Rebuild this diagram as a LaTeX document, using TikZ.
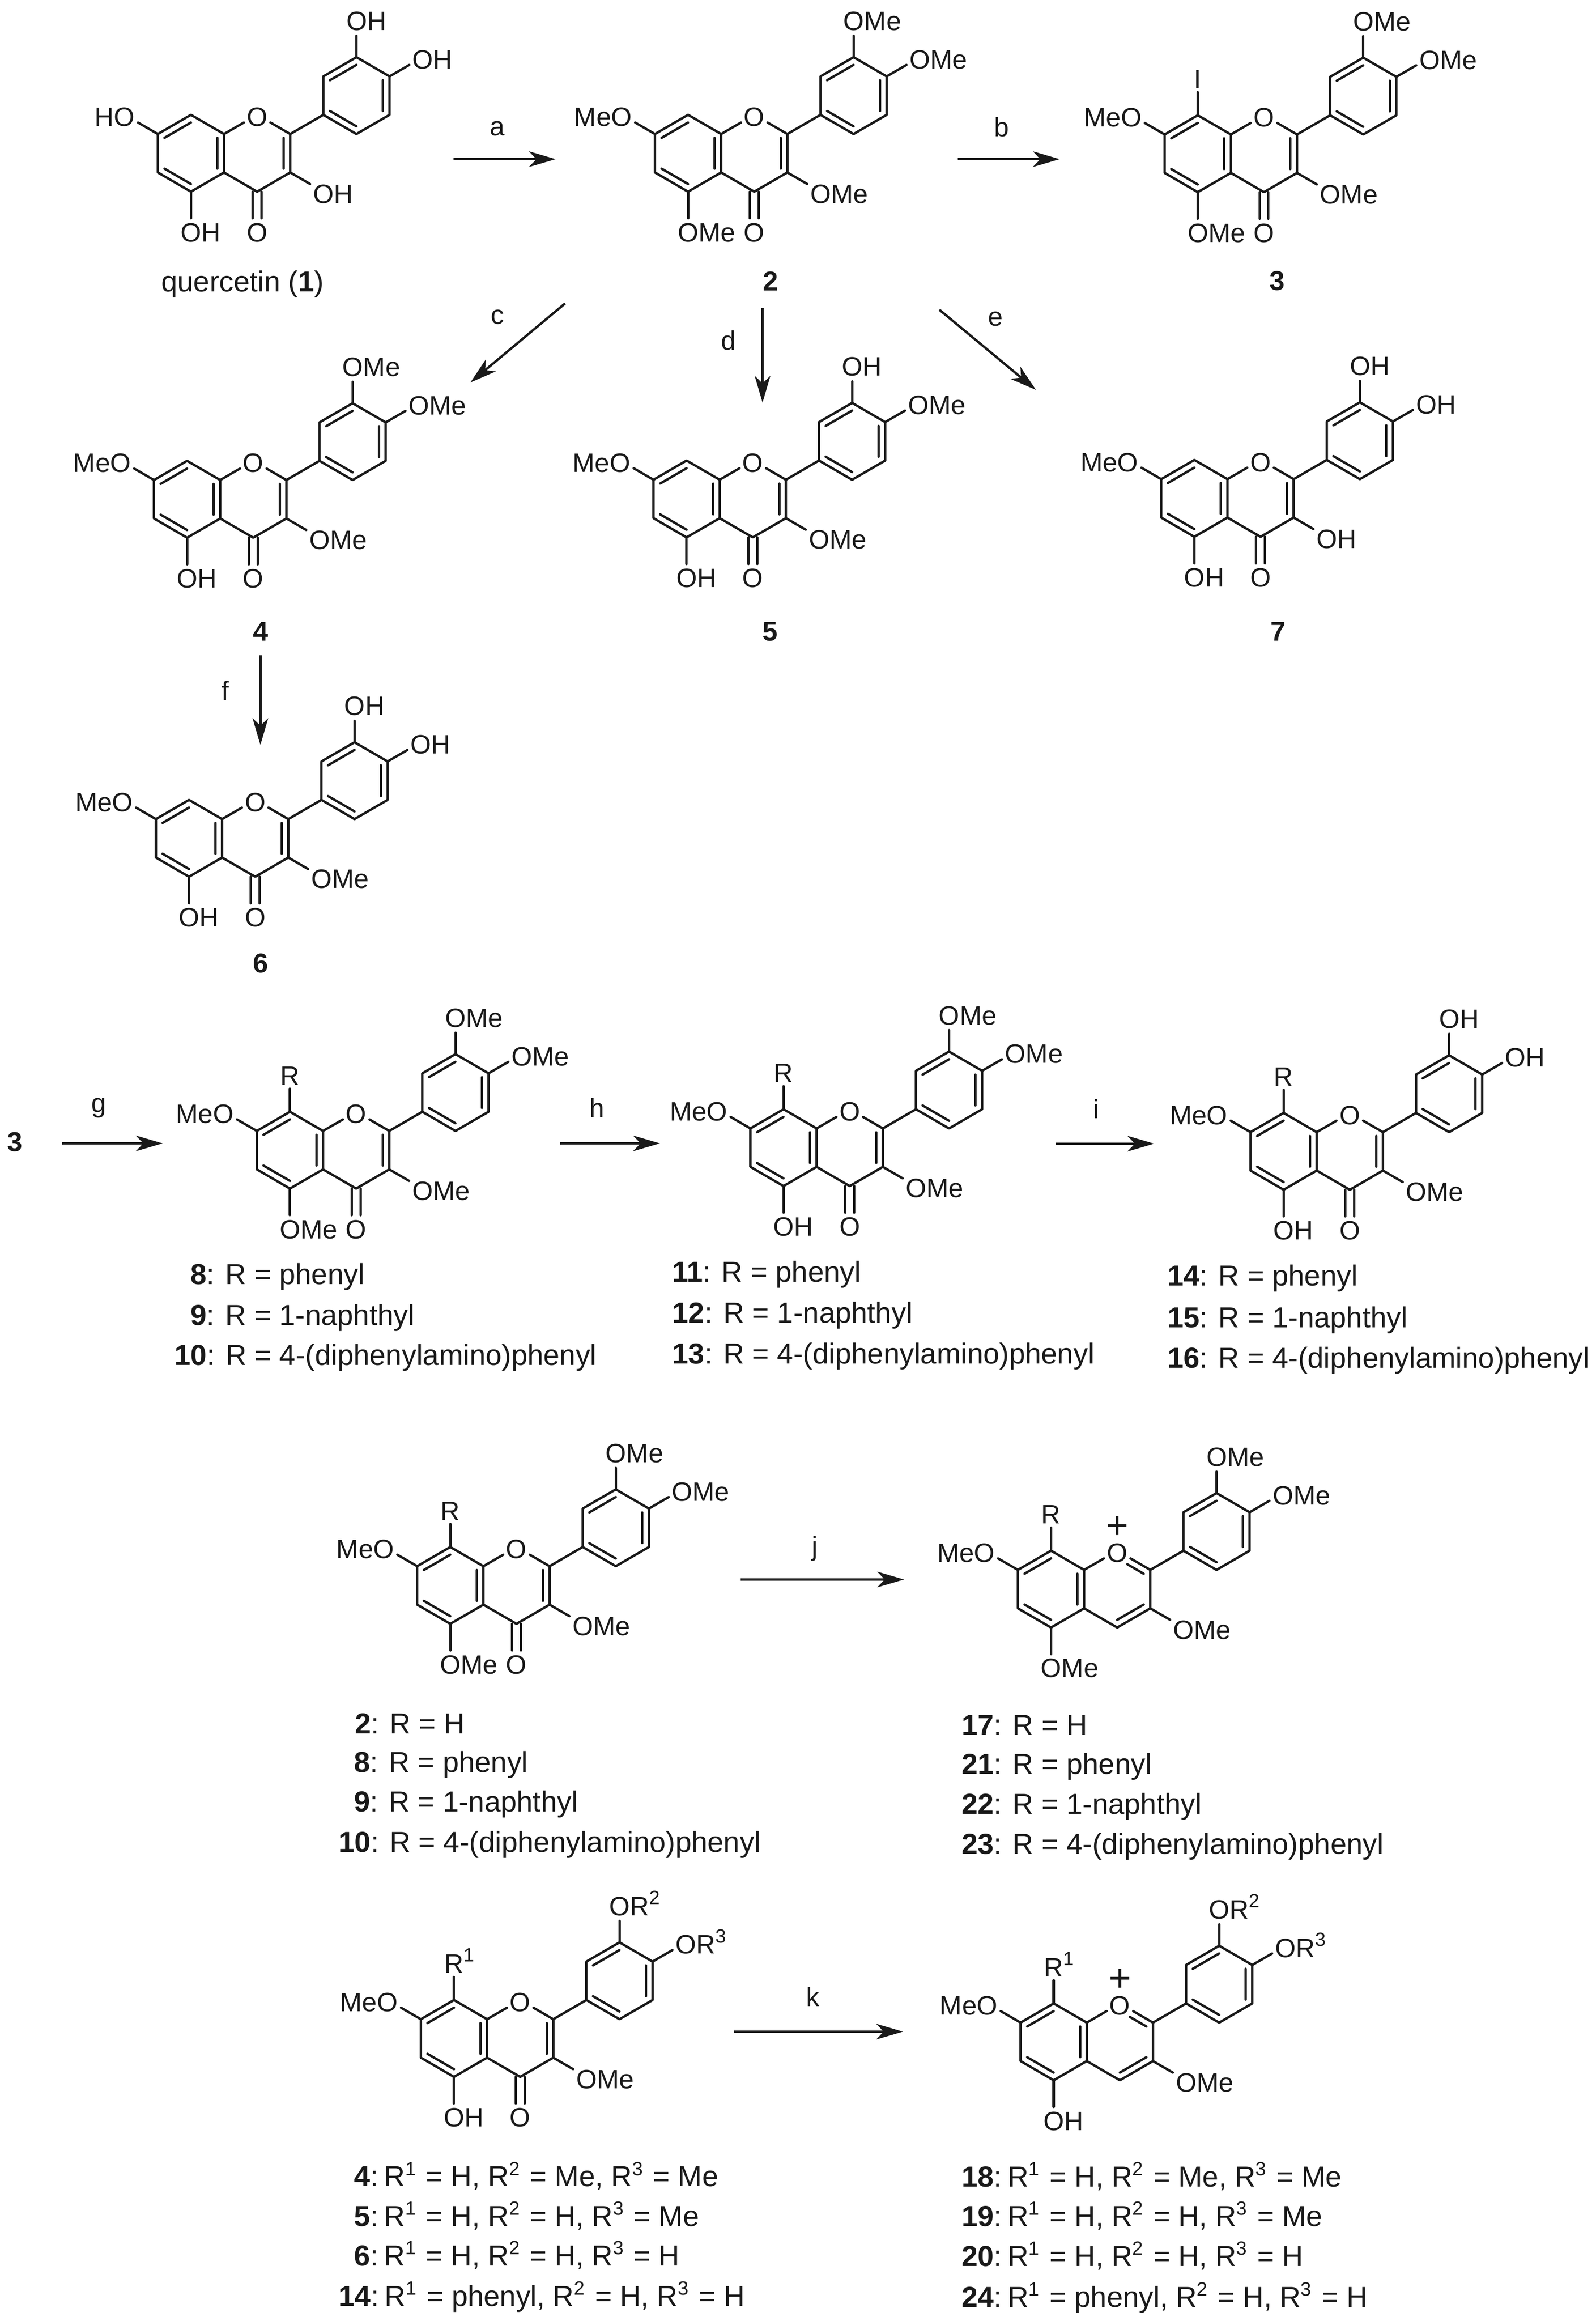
\documentclass[tikz,border=0pt]{standalone}
\usepackage{fontspec}
\setmainfont{Liberation Sans}
\usetikzlibrary{calc,arrows.meta}

\tikzset{
	bond/.style={line width=1.6pt,line cap=round,line join=round,black!90},
	rxn/.style={bond,-{Stealth[length=18pt,width=10.5pt,inset=5pt]},line cap=butt},
	atom/.style={inner sep=0pt,font=\fontsize{18}{20}\selectfont,black!90},
	capt/.style={inner sep=0pt,anchor=base west,font=\fontsize{19.6}{22}\selectfont,black!90},
	num/.style={inner sep=0pt,anchor=base,font=\fontsize{18.5}{20}\selectfont\bfseries,black!90}
}

% label with its O (or first letter) sitting on the atom position
\newcommand{\lblright}[2]{\node[atom,anchor=base west,xshift=-7pt,yshift=-7.8pt] (l#1) at (#1) {#2};}
\newcommand{\lblleft}[2]{\node[atom,anchor=base east,xshift=7pt,yshift=-7.8pt] (l#1) at (#1) {#2};}
\newcommand{\lblmid}[2]{\node[atom,anchor=base,yshift=-7.8pt] (l#1) at (#1) {#2};}
\newcommand{\upidx}[1]{\raisebox{7.6pt}{\fontsize{13}{13}\selectfont #1}}

\newcommand{\inner}[3]{\draw[bond] ($(#1)!0.2!(#3)$) -- ($(#2)!0.2!(#3)$);}

% atoms relative to the ring oxygen, bonds common to flavone and flavylium
\newcommand{\skeleton}{
	\coordinate (O) at (0,0);
	\coordinate (C8a) at (-22.4,13);
	\coordinate (C4a) at (-22.4,39);
	\coordinate (C4) at (0,52);
	\coordinate (C3) at (22.4,39);
	\coordinate (C2) at (22.4,13);
	\coordinate (C8) at (-44.8,0);
	\coordinate (C7) at (-67.2,13);
	\coordinate (C6) at (-67.2,39);
	\coordinate (C5) at (-44.8,52);
	\coordinate (C1p) at (44.8,0);
	\coordinate (C2p) at (44.8,-26);
	\coordinate (C3p) at (67.2,-39);
	\coordinate (C4p) at (89.6,-26);
	\coordinate (C5p) at (89.6,0);
	\coordinate (C6p) at (67.2,13);
	\coordinate (ringa) at (-44.8,26);
	\coordinate (ringc) at (0,26);
	\coordinate (ringb) at (67.2,-13);
	\coordinate (s7) at (-89.6,0);
	\coordinate (s8) at (-44.8,-26);
	\coordinate (s5) at (-44.8,78);
	\coordinate (s3) at (44.8,52);
	\coordinate (s3p) at (67.2,-65);
	\coordinate (s4p) at (112,-39);
	\draw[bond] (C8a) -- (C8) -- (C7) -- (C6) -- (C5) -- (C4a) -- cycle;
	\draw[bond] (C4a) -- (C4) -- (C3) -- (C2);
	\draw[bond] (C2) -- (C1p) -- (C2p) -- (C3p) -- (C4p) -- (C5p) -- (C6p) -- (C1p);
	\draw[bond,shorten >=10.4pt] (C8a) -- (O);
	\draw[bond,shorten >=10.4pt] (C2) -- (O);
	\inner{C8}{C7}{ringa}
	\inner{C6}{C5}{ringa}
	\inner{C8a}{C4a}{ringa}
	\inner{C2p}{C3p}{ringb}
	\inner{C4p}{C5p}{ringb}
	\inner{C6p}{C1p}{ringb}
	\lblmid{O}{O}
	\foreach \a/\b/\g in {C7/s7/10.4,C5/s5/8,C3/s3/10.4,C3p/s3p/11.5,C4p/s4p/10.4}
		\draw[bond,shorten >=\g pt] (\a) -- (\b);
}

% #1 prefix, #2 x, #3 y, #4 C7, #5 C8, #6 C5, #7 C3, #8 C3', #9 C4'
\newcommand{\flavone}[9]{
	\begin{scope}[shift={(#2,#3)},name prefix=#1-]
		\skeleton
		\coordinate (s4) at (0,78);
		\inner{C2}{C3}{ringc}
		\draw[bond,shorten >=8pt] ($(C4)+(-3,0)$) -- ($(s4)+(-3,0)$);
		\draw[bond,shorten >=8pt] ($(C4)+(3,0)$) -- ($(s4)+(3,0)$);
		\lblmid{s4}{O}
		\lblleft{s7}{#4}
		\if\relax\detokenize{#5}\relax\else
			\draw[bond,shorten >=10.4pt] (C8) -- (s8);
			\lblmid{s8}{#5}
		\fi
		\lblright{s5}{#6}
		\lblright{s3}{#7}
		\lblright{s3p}{#8}
		\lblright{s4p}{#9}
	\end{scope}
}

\newcommand{\flavylium}[9]{
	\begin{scope}[shift={(#2,#3)},name prefix=#1-]
		\skeleton
		\inner{C3}{C4}{ringc}
		\draw[bond] ($(C2)!0.2!(ringc)$) -- ($(C2)!0.62!(O)!0.2!(ringc)$);
		\node[atom,font=\fontsize{26}{26}\selectfont] (plus) at (0,-15.8) {+};
		\lblleft{s7}{#4}
		\draw[bond,shorten >=10.4pt] (C8) -- (s8);
		\lblmid{s8}{#5}
		\lblright{s5}{#6}
		\lblright{s3}{#7}
		\lblright{s3p}{#8}
		\lblright{s4p}{#9}
	\end{scope}
}

\newcommand{\rone}{\makebox[12.9pt][l]{R\upidx{1}}}
\newcommand{\ortwo}{OR\upidx{2}}
\newcommand{\orthree}{OR\upidx{3}}

\begin{document}
\begin{tikzpicture}[x=1pt,y=-1pt]
	\useasboundingbox (0,0) rectangle (1080,1570.4);

	\flavone{m1}{174}{77.7}{HO}{}{OH}{OH}{OH}{OH}
	\flavone{m2}{510.4}{77.7}{MeO}{}{OMe}{OMe}{OMe}{OMe}
	\flavone{m3}{855.3}{78}{MeO}{I}{OMe}{OMe}{OMe}{OMe}
	\flavone{m4}{171.4}{311.8}{MeO}{}{OH}{OMe}{OMe}{OMe}
	\flavone{m5}{509.4}{311.6}{MeO}{}{OH}{OMe}{OH}{OMe}
	\flavone{m7}{853}{311.2}{MeO}{}{OH}{OH}{OH}{OH}
	\flavone{m6}{172.7}{541.2}{MeO}{}{OH}{OMe}{OH}{OH}
	\flavone{m8}{241}{752.2}{MeO}{R}{OMe}{OMe}{OMe}{OMe}
	\flavone{m11}{575}{750.5}{MeO}{R}{OH}{OMe}{OMe}{OMe}
	\flavone{m14}{913.4}{753}{MeO}{R}{OH}{OMe}{OH}{OH}
	\flavone{m2r}{349.5}{1046.7}{MeO}{R}{OMe}{OMe}{OMe}{OMe}
	\flavylium{m17}{756}{1049.2}{MeO}{R}{OMe}{OMe}{OMe}{OMe}
	\flavone{m4r}{352}{1353.2}{MeO}{\rone}{OH}{OMe}{\ortwo}{\orthree}
	\flavylium{m18}{757.8}{1355.5}{MeO}{\rone}{OH}{OMe}{\ortwo}{\orthree}

	% compound numbers
	\node[capt,anchor=base] (n1) at (164.2,197.4) {quercetin (\textbf{1})};
	\foreach \nm/\x/\y/\t in {n2/521.3/196.7/2,n3/864.4/196.4/3,n4/176.4/433.5/4,n5/521/433.5/5,n7/865/433.5/7,n6/176.4/658/6,n3b/10/779/3}
		\node[num] (\nm) at (\x,\y) {\t};

	% reaction arrows
	\foreach \nm/\xa/\ya/\xb/\yb/\lx/\ly/\t in {
		a/307/107.7/376/107.7/336.4/87/a,
		b/648/107.7/717/107.7/677.7/86/b,
		c/382.4/205.3/318.3/258.8/336.8/214.5/c,
		d/516/208.2/516/272.4/493/230.4/d,
		e/635.7/209.6/701/263.8/673.7/215.8/e,
		f/176.2/443.4/176.2/504/152.4/467.1/f,
		g/42/773.6/110/773.6/67/749.5/g,
		h/379/773.6/446.5/773.6/404/749.5/h,
		i/714.3/773.8/781/773.8/742/750.2/i,
		j/501.3/1068.7/611.7/1068.7/551.5/1047.9/j,
		k/496.8/1374.6/611/1374.6/550/1351/k}{
		\coordinate (\nm s) at (\xa,\ya);
		\coordinate (\nm e) at (\xb,\yb);
		\draw[rxn] (\nm s) -- (\nm e);
		\node[atom] (\nm l) at (\lx,\ly) {\t};
	}

	% R legends
	\foreach \nm/\x/\y/\n/\t in {
		c8/128.7/869/8/R = phenyl,
		c9/128.7/896.5/9/R = 1-naphthyl,
		c10/118/923.7/10/R = 4-(diphenylamino)phenyl,
		c11/454.8/867.4/11/R = phenyl,
		c12/454.8/895.2/12/R = 1-naphthyl,
		c13/454.8/922.7/13/R = 4-(diphenylamino)phenyl,
		c14/789.8/869.9/14/R = phenyl,
		c15/789.8/898.1/15/R = 1-naphthyl,
		c16/789.8/925.5/16/R = 4-(diphenylamino)phenyl,
		d2/240.1/1172.9/2/R = H,
		d8/239.3/1199/8/R = phenyl,
		d9/239.3/1225.7/9/R = 1-naphthyl,
		d10/229/1253.2/10/R = 4-(diphenylamino)phenyl,
		d17/650.5/1174/17/R = H,
		d21/650.5/1200.3/21/R = phenyl,
		d22/650.5/1227.3/22/R = 1-naphthyl,
		d23/650.5/1254.3/23/R = 4-(diphenylamino)phenyl}
		\node[capt] (\nm) at (\x,\y) {\textbf{\n}: \t};

	\foreach \nm/\x/\y/\n/\ra/\rb/\rc in {
		e4/239.5/1479.4/4/H/Me/Me,
		e5/239.5/1506.3/5/H/H/Me,
		e6/239.5/1532.9/6/H/H/H,
		e14/229/1560.4/14/phenyl/H/H,
		e18/650.5/1479.7/18/H/Me/Me,
		e19/650.5/1506.2/19/H/H/Me,
		e20/650.5/1533.2/20/H/H/H,
		e24/650.5/1561/24/phenyl/H/H}
		\node[capt] (\nm) at (\x,\y) {\textbf{\n}:\hspace{4pt}R\upidx{1}\hspace{1.5pt} = \ra, R\upidx{2}\hspace{1.5pt} = \rb, R\upidx{3}\hspace{1.5pt} = \rc};
\end{tikzpicture}
\end{document}
